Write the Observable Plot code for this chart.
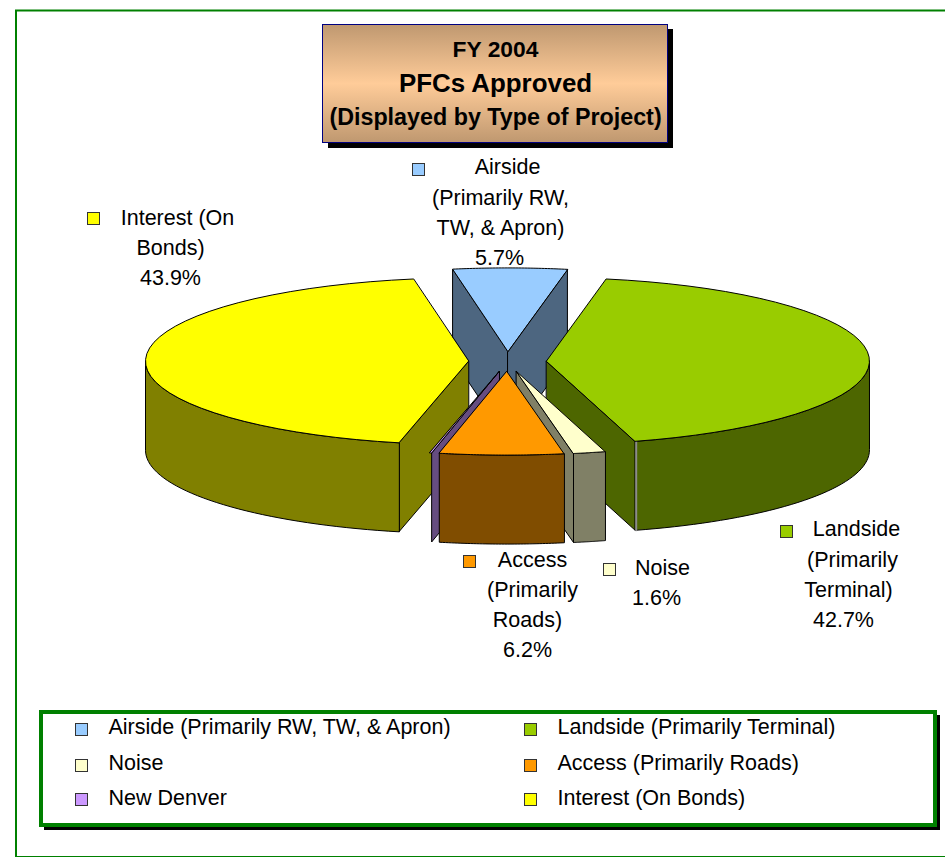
<!DOCTYPE html>
<html><head><meta charset="utf-8">
<script src="https://cdn.jsdelivr.net/npm/d3@7"></script>
<script src="https://cdn.jsdelivr.net/npm/@observablehq/plot@0.6"></script>
<style>html,body{margin:0;padding:0;background:#fff}svg{display:block}</style>
</head><body>
<div id="chart"></div>
<script>
// DATA
const categories = ["Airside (Primarily RW, TW, & Apron)", "Landside (Primarily Terminal)", "Noise", "Access (Primarily Roads)", "New Denver", "Interest (On Bonds)"];
const shares = [5.7, 42.7, 1.6, 6.2, 0.1, 43.9];
const tops = ["#99ccff", "#99cc00", "#ffffcc", "#ff9900", "#cc99ff", "#ffff00"];
const walls = ["#4d6680", "#4d6600", "#808066", "#804d00", "#664d80", "#808000"];
const titleLines = ["FY 2004", "PFCs Approved", "(Displayed by Type of Project)"];

// GEOMETRY of the projected pie (chart units = pixels through identity scales)
const cx = 507, cy = 361, rx = 323, ry = 83.5, depth = 89, explode = 39, rotate = 0.4;
const total = d3.sum(shares);
const startDeg = rotate - shares[0] / total * 180;
let acc = startDeg;
const slices = categories.map((c, i) => {
  const a0 = acc, a1 = acc + shares[i] / total * 360; acc = a1;
  const mid = (a0 + a1) / 2 * Math.PI / 180;
  return {i, a0, a1, tx: cx + explode * Math.sin(mid), ty: cy - explode * (ry / rx) * Math.cos(mid)};
});
const rad = d => d * Math.PI / 180;
const pt = (s, deg, dz = 0) => ({x: s.tx + rx * Math.sin(rad(deg)), y: s.ty - ry * Math.cos(rad(deg)) + dz});
const arc = (s, a0, a1, dz = 0) => d3.range(0, 41).map(k => pt(s, a0 + (a1 - a0) * k / 40, dz));
const poly = (pts, fill, sw = 1) => Plot.line(pts, {x: "x", y: "y", fill, stroke: "#000", strokeWidth: sw, curve: "linear-closed", strokeLinejoin: "round"});
const topFace = s => poly([{x: s.tx, y: s.ty}, ...arc(s, s.a0, s.a1)], tops[s.i]);
const radial = (s, deg) => poly([{x: s.tx, y: s.ty}, pt(s, deg), pt(s, deg, depth), {x: s.tx, y: s.ty + depth}], walls[s.i]);
const outer = (s, a0, a1) => poly([...arc(s, a0, a1), ...arc(s, a1, a0, depth)], walls[s.i]);
const [air, land, noise, access, denver, interest] = slices;

const pieMarks = [
  radial(air, air.a0), radial(air, air.a1), topFace(air),
  radial(interest, interest.a0), outer(interest, interest.a0, 270), topFace(interest),
  radial(land, land.a1), outer(land, 90, land.a1),
  Plot.line([pt(land, land.a1), pt(land, land.a1, depth)], {x: d => d.x + 1, y: "y", stroke: "#8c8c8c", strokeWidth: 2}),
  topFace(land),
  radial(denver, denver.a0), topFace(denver),
  radial(noise, noise.a1), outer(noise, noise.a0, noise.a1), topFace(noise),
  outer(access, access.a0, access.a1), topFace(access)
];

// LAYOUT of the text & boxes
const font = "Liberation Sans, Arial, sans-serif";
const dataLabels = [
  {t: "Airside", x: 507, y: 167}, {t: "(Primarily RW,", x: 500, y: 198}, {t: "TW, & Apron)", x: 500, y: 228}, {t: shares[0].toFixed(1) + "%", x: 499, y: 258},
  {t: "Interest (On", x: 177, y: 218}, {t: "Bonds)", x: 170, y: 248}, {t: shares[5].toFixed(1) + "%", x: 170, y: 278},
  {t: "Landside", x: 856, y: 529}, {t: "(Primarily", x: 852, y: 560}, {t: "Terminal)", x: 848, y: 590}, {t: shares[1].toFixed(1) + "%", x: 843, y: 620},
  {t: "Access", x: 532, y: 560}, {t: "(Primarily", x: 532, y: 590}, {t: "Roads)", x: 527, y: 620}, {t: shares[3].toFixed(1) + "%", x: 527, y: 650},
  {t: "Noise", x: 662, y: 568}, {t: shares[2].toFixed(1) + "%", x: 656, y: 598}
];
const keyAt = [
  {i: 0, x: 412.5, y: 163.5}, {i: 5, x: 87.5, y: 212.5}, {i: 1, x: 780.5, y: 525.5}, {i: 3, x: 463.5, y: 555.5}, {i: 2, x: 603.5, y: 563.5},
  {i: 0, x: 75.5, y: 723.5}, {i: 2, x: 75.5, y: 759.5}, {i: 4, x: 75.5, y: 793.5},
  {i: 1, x: 524.5, y: 723.5}, {i: 3, x: 524.5, y: 759.5}, {i: 5, x: 524.5, y: 793.5}
];
const legendText = [
  {i: 0, x: 108, y: 727}, {i: 2, x: 108, y: 763}, {i: 4, x: 108, y: 798},
  {i: 1, x: 557, y: 727}, {i: 3, x: 557, y: 763}, {i: 5, x: 557, y: 798}
];
const titleText = [{i: 0, y: 49, s: 22.8}, {i: 1, y: 83, s: 25.9}, {i: 2, y: 117, s: 23.3}];
const box = (x1, y1, x2, y2, o) => Plot.rect([{x1, y1, x2, y2}], {x1: "x1", y1: "y1", x2: "x2", y2: "y2", ...o});

const gradient = () => {
  const ns = "http://www.w3.org/2000/svg";
  const defs = document.createElementNS(ns, "defs");
  defs.innerHTML = `<linearGradient id="titleGrad" x1="0" y1="0" x2="0" y2="1">
    <stop offset="0" stop-color="#bf9870"/><stop offset="0.5" stop-color="#ffcc99"/><stop offset="1" stop-color="#bf9870"/></linearGradient>`;
  return defs;
};

const chart = Plot.plot({
  width: 945, height: 857, margin: 0,
  x: {type: "linear", domain: [0, 945], range: [0, 945], axis: null},
  y: {type: "linear", domain: [0, 857], range: [0, 857], axis: null},
  marks: [
    gradient,
    // outer frame
    Plot.ruleY([10], {x1: 15, x2: 945, stroke: "#008000", strokeWidth: 2}),
    Plot.ruleX([15.5], {y1: 10, y2: 857, stroke: "#008000", strokeWidth: 2}),
    Plot.ruleY([856], {x1: 15, x2: 945, stroke: "#008000", strokeWidth: 1}),
    // title
    box(328, 29, 673, 148, {fill: "#000"}),
    box(322.5, 24.5, 667.5, 142.5, {fill: "url(#titleGrad)", stroke: "#000080", strokeWidth: 1}),
    Plot.text(titleText, {x: () => 495, y: "y", text: d => titleLines[d.i], fontSize: "s", fontWeight: "bold", fontFamily: font, fill: "#000", lineAnchor: "middle"}),
    // pie
    ...pieMarks,
    // labels
    Plot.text(dataLabels, {x: "x", y: "y", text: "t", fontSize: 21.5, fontFamily: font, fill: "#000", lineAnchor: "middle"}),
    // legend frame
    box(44, 715, 940, 830, {fill: "#000"}),
    box(41, 712, 935, 825, {fill: "#fff", stroke: "#008000", strokeWidth: 4}),
    Plot.text(legendText, {x: "x", y: "y", text: d => categories[d.i], fontSize: 21.5, fontFamily: font, fill: "#000", textAnchor: "start", lineAnchor: "middle"}),
    // keys
    Plot.rect(keyAt, {x1: "x", y1: "y", x2: d => d.x + 12, y2: d => d.y + 12, fill: d => tops[d.i], stroke: "#333", strokeWidth: 1})
  ]
});
document.getElementById("chart").append(chart);
</script>
</body></html>
